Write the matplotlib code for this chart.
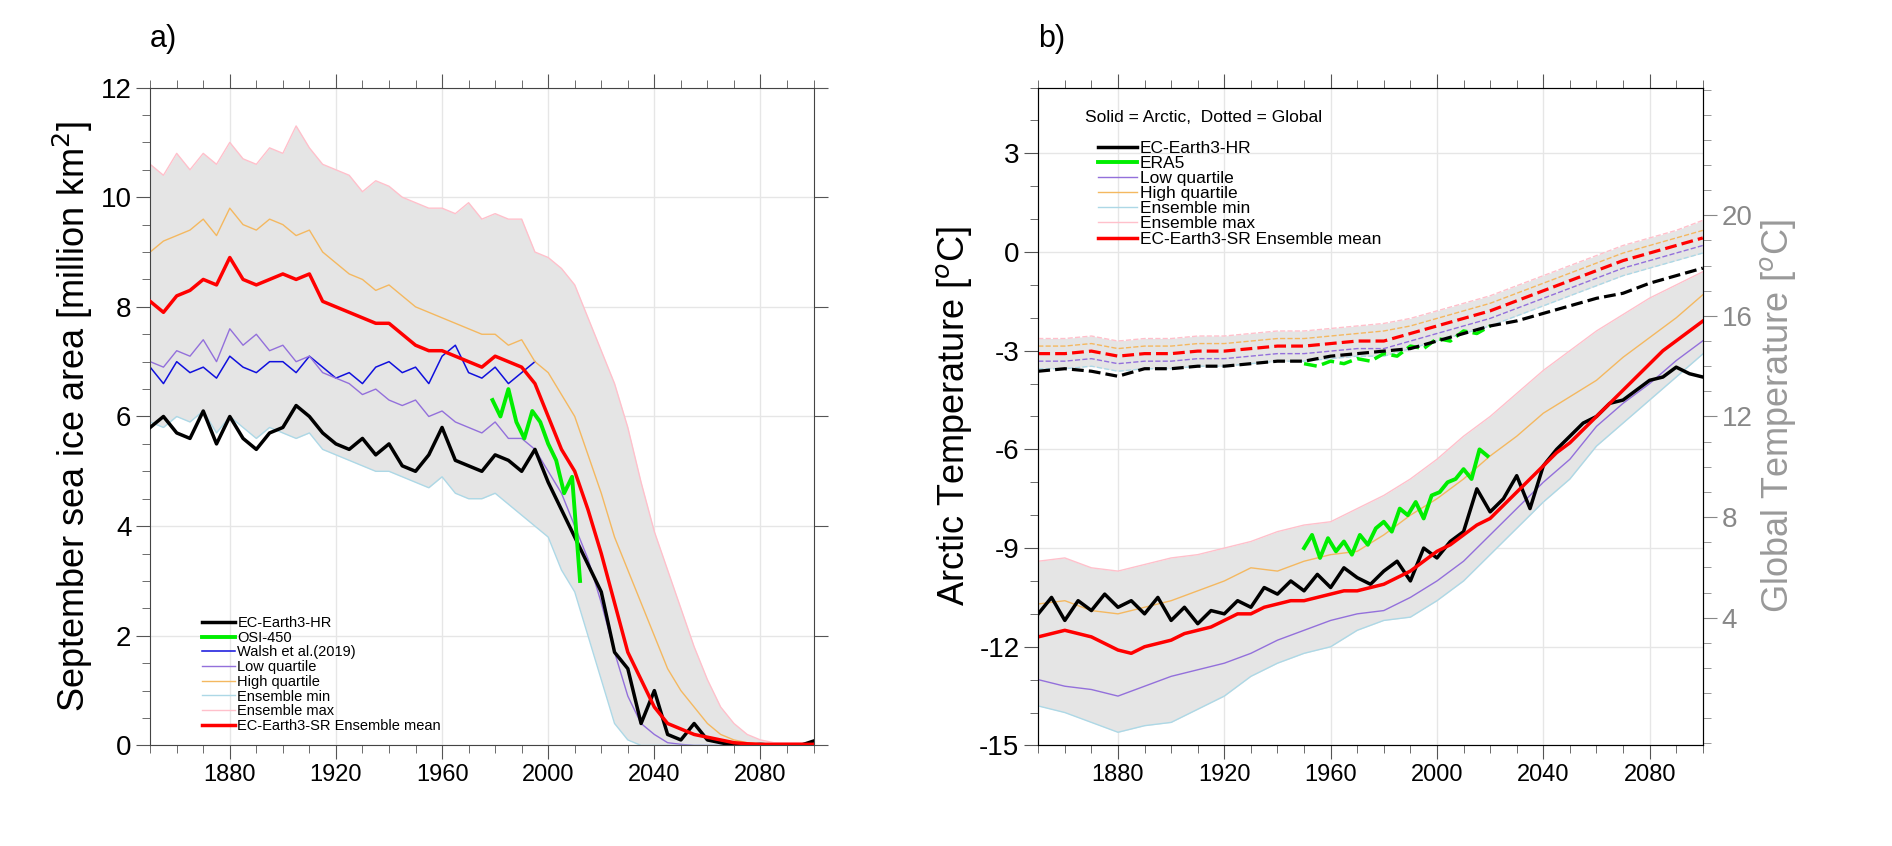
import numpy as np
import matplotlib
matplotlib.use("Agg")
from matplotlib import pyplot as plt
from matplotlib.ticker import MultipleLocator

plt.rcParams['font.family'] = ['Liberation Sans', 'DejaVu Sans']
plt.rcParams['axes.unicode_minus'] = False

yrs5 = np.arange(1850, 2101, 5)
yrs10 = np.arange(1850, 2101, 10)

# ---- panel a: September sea ice area (million km2), every 5 years
sia_mean = [8.1,7.9,8.2,8.3,8.5,8.4,8.9,8.5,8.4,8.5,8.6,8.5,8.6,8.1,8.0,7.9,7.8,7.7,7.7,7.5,
            7.3,7.2,7.2,7.1,7.0,6.9,7.1,7.0,6.9,6.6,6.0,5.4,5.0,4.3,3.5,2.6,1.7,1.2,0.7,0.4,
            0.3,0.2,0.15,0.1,0.05,0.03,0.02,0.02,0.02,0.02,0.02]
sia_hr = [5.8,6.0,5.7,5.6,6.1,5.5,6.0,5.6,5.4,5.7,5.8,6.2,6.0,5.7,5.5,5.4,5.6,5.3,5.5,5.1,
          5.0,5.3,5.8,5.2,5.1,5.0,5.3,5.2,5.0,5.4,4.8,4.3,3.8,3.3,2.8,1.7,1.4,0.4,1.0,0.2,
          0.1,0.4,0.1,0.05,0.0,0.0,0.02,0.0,0.0,0.0,0.08]
sia_high = [9.0,9.2,9.3,9.4,9.6,9.3,9.8,9.5,9.4,9.6,9.5,9.3,9.4,9.0,8.8,8.6,8.5,8.3,8.4,8.2,
            8.0,7.9,7.8,7.7,7.6,7.5,7.5,7.3,7.4,7.0,6.8,6.4,6.0,5.3,4.6,3.8,3.2,2.6,2.0,1.4,
            1.0,0.7,0.4,0.2,0.1,0.05,0.03,0.02,0.02,0.02,0.02]
sia_low = [7.0,6.9,7.2,7.1,7.4,7.0,7.6,7.3,7.5,7.2,7.3,7.0,7.1,6.8,6.7,6.6,6.4,6.5,6.3,6.2,
           6.3,6.0,6.1,5.9,5.8,5.7,5.9,5.6,5.6,5.4,5.0,4.6,4.0,3.4,2.6,1.7,0.9,0.4,0.2,0.05,
           0.02,0.0,0.0,0.0,0.0,0.0,0.0,0.0,0.0,0.0,0.0]
sia_min = [5.9,5.8,6.0,5.9,6.1,5.7,6.0,5.8,5.6,5.8,5.7,5.6,5.7,5.4,5.3,5.2,5.1,5.0,5.0,4.9,
           4.8,4.7,4.9,4.6,4.5,4.5,4.6,4.4,4.2,4.0,3.8,3.2,2.8,2.0,1.2,0.4,0.1,0.0,0.0,0.0,
           0.0,0.0,0.0,0.0,0.0,0.0,0.0,0.0,0.0,0.0,0.0]
sia_max = [10.6,10.4,10.8,10.5,10.8,10.6,11.0,10.7,10.6,10.9,10.8,11.3,10.9,10.6,10.5,10.4,10.1,10.3,10.2,10.0,
           9.9,9.8,9.8,9.7,9.9,9.6,9.7,9.6,9.6,9.0,8.9,8.7,8.4,7.8,7.2,6.6,5.8,4.8,3.9,3.2,
           2.5,1.8,1.2,0.7,0.4,0.2,0.1,0.05,0.05,0.05,0.05]
walsh_yrs = np.arange(1850, 2000, 5)
walsh = [6.9,6.6,7.0,6.8,6.9,6.7,7.1,6.9,6.8,7.0,7.0,6.8,7.1,6.9,6.7,6.8,6.6,6.9,7.0,6.8,
         6.9,6.6,7.1,7.3,6.8,6.7,6.9,6.6,6.8,7.0]
osi_yrs = [1979,1982,1985,1988,1991,1994,1997,2000,2003,2006,2009,2012]
osi = [6.3,6.0,6.5,5.9,5.6,6.1,5.9,5.5,5.2,4.6,4.9,3.0]

# ---- panel b: Arctic temperature (degC)
at_hr = [-11.0,-10.5,-11.2,-10.6,-10.9,-10.4,-10.8,-10.6,-11.0,-10.5,-11.2,-10.8,-11.3,-10.9,-11.0,-10.6,-10.8,
         -10.2,-10.4,-10.0,-10.3,-9.8,-10.2,-9.6,-9.9,-10.1,-9.7,-9.4,-10.0,-9.0,-9.3,-8.8,-8.5,-7.2,
         -7.9,-7.5,-6.8,-7.8,-6.5,-6.0,-5.6,-5.2,-5.0,-4.6,-4.5,-4.2,-3.9,-3.8,-3.5,-3.7,-3.8]
at_mean = [-11.7,-11.6,-11.5,-11.6,-11.7,-11.9,-12.1,-12.2,-12.0,-11.9,-11.8,-11.6,-11.5,-11.4,-11.2,-11.0,-11.0,
           -10.8,-10.7,-10.6,-10.6,-10.5,-10.4,-10.3,-10.3,-10.2,-10.1,-9.9,-9.7,-9.4,-9.1,-8.9,-8.6,-8.3,
           -8.1,-7.7,-7.3,-6.9,-6.5,-6.1,-5.8,-5.4,-5.0,-4.6,-4.2,-3.8,-3.4,-3.0,-2.7,-2.4,-2.1]
at_high = [-10.7,-10.6,-10.9,-11.0,-10.8,-10.6,-10.3,-10.0,-9.6,-9.7,-9.4,-9.2,-9.1,-8.6,-8.0,-7.5,-6.9,-6.2,-5.6,
           -4.9,-4.4,-3.9,-3.2,-2.6,-2.0,-1.3]
at_low = [-13.0,-13.2,-13.3,-13.5,-13.2,-12.9,-12.7,-12.5,-12.2,-11.8,-11.5,-11.2,-11.0,-10.9,-10.5,-10.0,-9.4,
          -8.6,-7.8,-7.0,-6.3,-5.3,-4.6,-4.0,-3.3,-2.7]
at_min = [-13.8,-14.0,-14.3,-14.6,-14.4,-14.3,-13.9,-13.5,-12.9,-12.5,-12.2,-12.0,-11.5,-11.2,-11.1,-10.6,-10.0,
          -9.2,-8.4,-7.6,-6.9,-5.9,-5.2,-4.5,-3.8,-3.1]
at_max = [-9.4,-9.3,-9.6,-9.7,-9.5,-9.3,-9.2,-9.0,-8.8,-8.5,-8.3,-8.2,-7.8,-7.4,-6.9,-6.3,-5.6,-5.0,-4.3,-3.6,
          -3.0,-2.4,-1.9,-1.4,-1.0,-0.6]
era_yrs = [1950,1953,1956,1959,1962,1965,1968,1971,1974,1977,1980,1983,1986,1989,1992,1995,1998,2001,2004,
           2007,2010,2013,2016,2019]
era_at = [-9.0,-8.6,-9.3,-8.7,-9.1,-8.8,-9.2,-8.6,-8.9,-8.4,-8.2,-8.5,-7.8,-8.0,-7.6,-8.1,-7.4,-7.3,-7.0,
          -6.9,-6.6,-6.9,-6.0,-6.2]

# global temperature (degC), every 10 years
gt_mean = [14.5,14.5,14.6,14.4,14.5,14.5,14.6,14.6,14.7,14.8,14.8,14.9,15.0,15.0,15.3,15.6,15.9,16.2,16.6,17.0,
           17.4,17.8,18.2,18.5,18.8,19.1]
gt_hr = [13.8,13.9,13.8,13.6,13.9,13.9,14.0,14.0,14.1,14.2,14.2,14.4,14.5,14.6,14.7,15.0,15.3,15.6,15.8,16.1,
         16.4,16.7,16.9,17.3,17.6,17.9]
gt_high = [14.8,14.8,14.9,14.7,14.8,14.8,14.9,14.9,15.0,15.1,15.1,15.2,15.3,15.4,15.6,15.9,16.2,16.5,16.9,17.3,
           17.7,18.1,18.5,18.8,19.1,19.4]
gt_low = [14.2,14.2,14.3,14.1,14.2,14.2,14.3,14.3,14.4,14.5,14.5,14.6,14.7,14.7,15.0,15.3,15.6,15.9,16.3,16.7,
          17.1,17.5,17.9,18.2,18.5,18.8]
gt_min = [13.9,13.9,14.0,13.8,13.9,13.9,14.0,14.0,14.1,14.2,14.2,14.3,14.4,14.4,14.7,15.0,15.3,15.6,16.0,16.4,
          16.8,17.2,17.6,17.9,18.2,18.5]
gt_max = [15.1,15.1,15.2,15.0,15.1,15.1,15.2,15.2,15.3,15.4,15.4,15.5,15.6,15.7,15.9,16.2,16.5,16.8,17.2,17.6,
          18.0,18.4,18.8,19.1,19.4,19.8]
era_gyrs = [1950,1955,1960,1965,1970,1975,1980,1985,1990,1995,2000,2005,2010,2015,2020]
era_gt = [14.1,14.0,14.2,14.1,14.3,14.2,14.5,14.4,14.8,14.7,15.1,15.0,15.4,15.3,15.6]

C_MIN, C_MAX, C_LOW, C_HIGH = '#add8e6', '#ffc0cb', '#9370db', '#f4b860'
W, H = 1600.0, 715.0   # reference layout measured on this grid


def style(ax):
    ax.set_xlim(1850, 2100)
    ax.xaxis.set_minor_locator(MultipleLocator(10))
    ax.set_xticks([1880, 1920, 1960, 2000, 2040, 2080])
    ax.tick_params(which='both', direction='out', top=True, labelsize=17, color='#555555')
    ax.tick_params(which='major', length=10)
    ax.tick_params(which='minor', length=6)
    ax.grid(True, color='#e6e6e6', lw=1)
    ax.set_axisbelow(True)
    for s in ax.spines.values():
        s.set_color('#444444')


fig = plt.figure(figsize=(18.92, 8.46), dpi=100)
axa = fig.add_axes([127/W, 1-630/H, 561/W, 556/H])
axb = fig.add_axes([878/W, 1-630/H, 562/W, 556/H])

# panel a
axa.fill_between(yrs5, sia_min, sia_max, color='#e5e5e5', lw=0)
axa.plot(yrs5, sia_hr, color='black', lw=2.5, label='EC-Earth3-HR', zorder=5)
axa.plot(osi_yrs, osi, color='#00ee00', lw=2.8, label='OSI-450', zorder=6)
axa.plot(walsh_yrs, walsh, color='#1010dd', lw=1.1, label='Walsh et al.(2019)')
axa.plot(yrs5, sia_low, color=C_LOW, lw=1, label='Low quartile')
axa.plot(yrs5, sia_high, color=C_HIGH, lw=1, label='High quartile')
axa.plot(yrs5, sia_min, color=C_MIN, lw=1, label='Ensemble min')
axa.plot(yrs5, sia_max, color=C_MAX, lw=1, label='Ensemble max')
axa.plot(yrs5, sia_mean, color='red', lw=2.5, label='EC-Earth3-SR Ensemble mean', zorder=5)
style(axa)
axa.set_ylim(0, 12)
axa.yaxis.set_major_locator(MultipleLocator(2))
axa.yaxis.set_minor_locator(MultipleLocator(0.5))
axa.tick_params(axis='y', right=True, labelsize=20)
axa.set_ylabel('September sea ice area [million km$^2$]', fontsize=26)
axa.legend(loc='lower left', bbox_to_anchor=(0.07, 0.01), frameon=False, fontsize=10.5,
           handlelength=2.2, labelspacing=0.05, borderaxespad=0, handletextpad=0.2)
fig.text(127/W, 1-40/H, 'a)', fontsize=22)

# panel b
axb.fill_between(yrs10, at_min, at_max, color='#e5e5e5', lw=0)
axb.plot(yrs5, at_hr, color='black', lw=2.5, label='EC-Earth3-HR', zorder=5)
axb.plot(era_yrs, era_at, color='#00ee00', lw=2.8, label='ERA5', zorder=6)
axb.plot(yrs10, at_low, color=C_LOW, lw=1, label='Low quartile')
axb.plot(yrs10, at_high, color=C_HIGH, lw=1, label='High quartile')
axb.plot(yrs10, at_min, color=C_MIN, lw=1, label='Ensemble min')
axb.plot(yrs10, at_max, color=C_MAX, lw=1, label='Ensemble max')
axb.plot(yrs5, at_mean, color='red', lw=2.5, label='EC-Earth3-SR Ensemble mean', zorder=5)
style(axb)
axb.set_ylim(-15, 5)
axb.set_yticks([-15, -12, -9, -6, -3, 0, 3])
axb.yaxis.set_minor_locator(MultipleLocator(1))
axb.tick_params(axis='y', labelsize=20)
axb.set_ylabel('Arctic Temperature [$^o$C]', fontsize=26)
axb.legend(loc='upper left', bbox_to_anchor=(0.08, 0.93), frameon=False, fontsize=12.5,
           handlelength=2.2, labelspacing=0.0, borderaxespad=0, handletextpad=0.2)
axb.text(0.07, 0.955, 'Solid = Arctic,  Dotted = Global', transform=axb.transAxes, fontsize=12.5,
         va='center')
fig.text(878/W, 1-40/H, 'b)', fontsize=22)

axg = axb.twinx()
axg.fill_between(yrs10, gt_min, gt_max, color='#e5e5e5', lw=0)
axg.plot(yrs10, gt_low, color=C_LOW, lw=1, ls='--')
axg.plot(yrs10, gt_high, color=C_HIGH, lw=1, ls='--')
axg.plot(yrs10, gt_min, color=C_MIN, lw=1, ls='--')
axg.plot(yrs10, gt_max, color=C_MAX, lw=1, ls='--')
axg.plot(era_gyrs, era_gt, color='#00ee00', lw=2.5, ls='--')
axg.plot(yrs10, gt_hr, color='black', lw=2.3, ls='--')
axg.plot(yrs10, gt_mean, color='red', lw=2.3, ls='--')
axg.set_ylim(-1.08, 25.08)
axg.set_yticks([4, 8, 12, 16, 20])
axg.yaxis.set_minor_locator(MultipleLocator(1))
axg.tick_params(which='both', direction='out', labelsize=20, labelcolor='#888888', color='#888888')
axg.tick_params(which='major', length=10)
axg.tick_params(which='minor', length=6)
axg.set_ylabel('Global Temperature [$^o$C]', fontsize=26, color='#999999')

fig.savefig('out.png', dpi=100)
